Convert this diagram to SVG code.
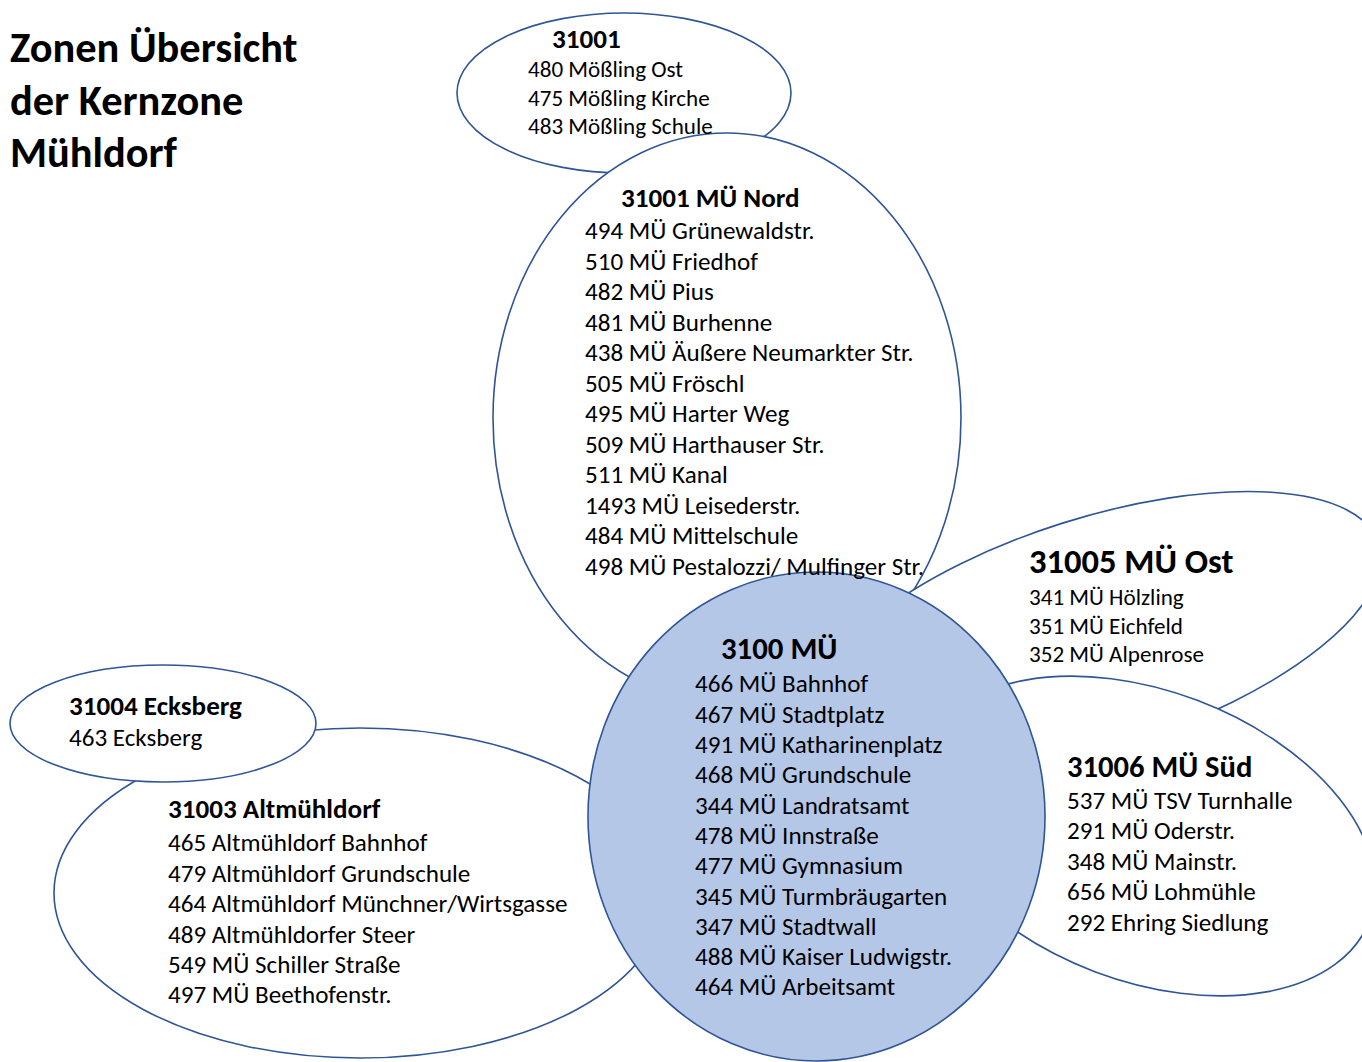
<svg xmlns="http://www.w3.org/2000/svg" width="1362" height="1062" viewBox="0 0 1362 1062">
<style>
.z{fill:#fff;stroke:#2F5597;stroke-width:1.6}
.c{fill:#B4C7E7;stroke:#2F5597;stroke-width:1.6}
text{font-family:Carlito,Lato,"Liberation Sans",sans-serif;fill:#000}
.b{font-weight:bold}
.r25{font-size:25.1px}
.r23{font-size:23.1px}
.b27{font-size:27.1px;font-weight:bold}
</style>
<rect width="1362" height="1062" fill="#fff"/>
<g id="shapes">
<ellipse id="z31001-shape" class="z" cx="624" cy="93" rx="167" ry="80"/>
<ellipse id="nord-shape" class="z" cx="727" cy="418" rx="234" ry="285"/>
<ellipse id="ost-shape" class="z" rx="296" ry="115" transform="translate(1096.5 633) rotate(-17.6)"/>
<ellipse id="sued-shape" class="z" rx="239" ry="145" transform="translate(1146 836) rotate(20.7)"/>
<ellipse id="altm-shape" class="z" cx="360" cy="893" rx="306" ry="165"/>
<ellipse id="ecks-shape" class="z" cx="163" cy="723.5" rx="153" ry="58.5"/>
<ellipse id="center-shape" class="c" cx="816.5" cy="816.5" rx="228.5" ry="244.5"/>
</g>
<g id="connectors"></g>
<g id="title">
<text class="b" font-size="42.4" x="10" y="62">Zonen Übersicht</text>
<text class="b" font-size="42.4" x="10" y="115">der Kernzone</text>
<text class="b" font-size="42.4" x="10" y="167">Mühldorf</text>
</g>
<g id="node-31001">
<text class="b27" x="552" y="48">31001</text>
<text class="r23" x="528" y="77">480 Mößling Ost</text>
<text class="r23" x="528" y="105.5">475 Mößling Kirche</text>
<text class="r23" x="528" y="134">483 Mößling Schule</text>
</g>
<g id="node-nord">
<text class="b27" x="621" y="207">31001 MÜ Nord</text>
<text class="r25" x="585" y="239">494 MÜ Grünewaldstr.</text>
<text class="r25" x="585" y="269.5">510 MÜ Friedhof</text>
<text class="r25" x="585" y="300">482 MÜ Pius</text>
<text class="r25" x="585" y="330.5">481 MÜ Burhenne</text>
<text class="r25" x="585" y="361">438 MÜ Äußere Neumarkter Str.</text>
<text class="r25" x="585" y="391.5">505 MÜ Fröschl</text>
<text class="r25" x="585" y="422">495 MÜ Harter Weg</text>
<text class="r25" x="585" y="452.5">509 MÜ Harthauser Str.</text>
<text class="r25" x="585" y="483">511 MÜ Kanal</text>
<text class="r25" x="585" y="513.5">1493 MÜ Leisederstr.</text>
<text class="r25" x="585" y="544">484 MÜ Mittelschule</text>
<text class="r25" x="585" y="574.5">498 MÜ Pestalozzi/ Mulfinger Str.</text>
</g>
<g id="node-ost">
<text class="b" font-size="34.5" x="1029" y="573">31005 MÜ Ost</text>
<text class="r23" x="1029" y="605">341 MÜ Hölzling</text>
<text class="r23" x="1029" y="633.5">351 MÜ Eichfeld</text>
<text class="r23" x="1029" y="662">352 MÜ Alpenrose</text>
</g>
<g id="node-sued">
<text class="b" font-size="30.6" x="1067" y="777">31006 MÜ Süd</text>
<text class="r25" x="1067" y="808.5">537 MÜ TSV Turnhalle</text>
<text class="r25" x="1067" y="839">291 MÜ Oderstr.</text>
<text class="r25" x="1067" y="869.5">348 MÜ Mainstr.</text>
<text class="r25" x="1067" y="900">656 MÜ Lohmühle</text>
<text class="r25" x="1067" y="930.5">292 Ehring Siedlung</text>
</g>
<g id="node-ecksberg">
<text class="b27" x="69" y="715">31004 Ecksberg</text>
<text class="r25" x="69" y="746">463 Ecksberg</text>
</g>
<g id="node-altmuehldorf">
<text class="b27" x="168" y="818">31003 Altmühldorf</text>
<text class="r25" x="168" y="851">465 Altmühldorf Bahnhof</text>
<text class="r25" x="168" y="881.5">479 Altmühldorf Grundschule</text>
<text class="r25" x="168" y="912">464 Altmühldorf Münchner/Wirtsgasse</text>
<text class="r25" x="168" y="942.5">489 Altmühldorfer Steer</text>
<text class="r25" x="168" y="973">549 MÜ Schiller Straße</text>
<text class="r25" x="168" y="1003">497 MÜ Beethofenstr.</text>
</g>
<g id="node-3100">
<text class="b" font-size="30.8" x="721" y="659">3100 MÜ</text>
<text class="r25" x="695" y="692">466 MÜ Bahnhof</text>
<text class="r25" x="695" y="722.5">467 MÜ Stadtplatz</text>
<text class="r25" x="695" y="753">491 MÜ Katharinenplatz</text>
<text class="r25" x="695" y="783">468 MÜ Grundschule</text>
<text class="r25" x="695" y="813.5">344 MÜ Landratsamt</text>
<text class="r25" x="695" y="843.5">478 MÜ Innstraße</text>
<text class="r25" x="695" y="874">477 MÜ Gymnasium</text>
<text class="r25" x="695" y="904.5">345 MÜ Turmbräugarten</text>
<text class="r25" x="695" y="934.5">347 MÜ Stadtwall</text>
<text class="r25" x="695" y="965">488 MÜ Kaiser Ludwigstr.</text>
<text class="r25" x="695" y="995">464 MÜ Arbeitsamt</text>
</g>
</svg>
